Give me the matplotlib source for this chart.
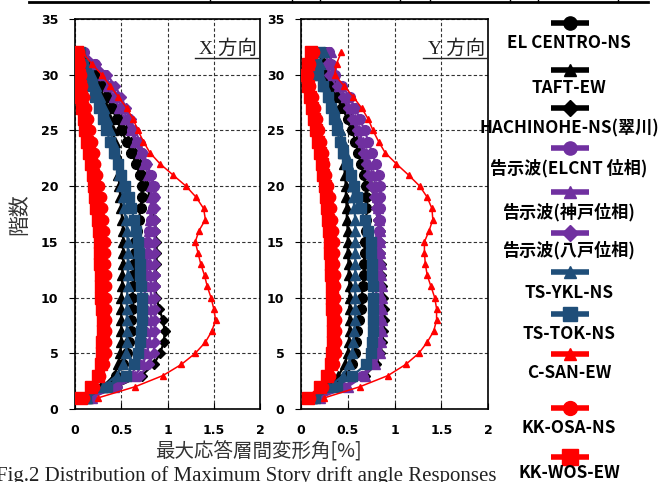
import numpy as np
import matplotlib
matplotlib.use('Agg')
import matplotlib.pyplot as plt

# stories
story = np.arange(1, 33)

labels = ['EL CENTRO-NS', 'TAFT-EW', 'HACHINOHE-NS(翠川)', '告示波(ELCNT 位相)',
          '告示波(神戸位相)', '告示波(八戸位相)', 'TS-YKL-NS', 'TS-TOK-NS',
          'C-SAN-EW', 'KK-OSA-NS', 'KK-WOS-EW']

# X direction drift angle [%], story 1..32
elc_x = [0.12, 0.30, 0.44, 0.52, 0.56, 0.58, 0.60, 0.61, 0.62, 0.62, 0.63, 0.63, 0.64, 0.65, 0.65, 0.67,
         0.69, 0.71, 0.72, 0.72, 0.70, 0.66, 0.61, 0.56, 0.50, 0.45, 0.40, 0.35, 0.29, 0.22, 0.14, 0.06]
taft_x = [0.14, 0.30, 0.42, 0.47, 0.49, 0.50, 0.50, 0.50, 0.50, 0.50, 0.51, 0.51, 0.52, 0.52, 0.52, 0.52,
          0.51, 0.50, 0.49, 0.48, 0.47, 0.46, 0.44, 0.43, 0.41, 0.38, 0.35, 0.31, 0.26, 0.20, 0.13, 0.06]
hachi_x = [0.15, 0.45, 0.72, 0.85, 0.92, 0.96, 0.97, 0.95, 0.91, 0.88, 0.87, 0.87, 0.88, 0.88, 0.88, 0.87,
           0.86, 0.84, 0.81, 0.78, 0.74, 0.70, 0.65, 0.60, 0.55, 0.50, 0.44, 0.38, 0.32, 0.25, 0.16, 0.07]
elcnt_x = [0.15, 0.40, 0.60, 0.68, 0.72, 0.74, 0.75, 0.75, 0.75, 0.75, 0.76, 0.77, 0.77, 0.78, 0.78, 0.80,
           0.82, 0.84, 0.85, 0.85, 0.82, 0.77, 0.72, 0.67, 0.62, 0.57, 0.51, 0.45, 0.39, 0.32, 0.22, 0.10]
kobe_x = [0.18, 0.42, 0.65, 0.73, 0.78, 0.80, 0.82, 0.82, 0.82, 0.82, 0.82, 0.81, 0.81, 0.80, 0.80, 0.80,
          0.81, 0.82, 0.82, 0.82, 0.79, 0.75, 0.70, 0.65, 0.60, 0.54, 0.48, 0.42, 0.36, 0.30, 0.20, 0.08]
hph_x = [0.18, 0.45, 0.70, 0.80, 0.85, 0.86, 0.86, 0.86, 0.86, 0.86, 0.86, 0.86, 0.86, 0.86, 0.86, 0.86,
         0.86, 0.86, 0.86, 0.85, 0.82, 0.78, 0.74, 0.70, 0.65, 0.60, 0.55, 0.50, 0.43, 0.35, 0.23, 0.10]
ykl_x = [0.13, 0.30, 0.45, 0.52, 0.55, 0.56, 0.56, 0.56, 0.56, 0.56, 0.57, 0.57, 0.57, 0.57, 0.57, 0.56,
         0.55, 0.53, 0.52, 0.50, 0.48, 0.46, 0.43, 0.41, 0.38, 0.35, 0.31, 0.27, 0.23, 0.18, 0.12, 0.06]
tok_x = [0.12, 0.35, 0.55, 0.64, 0.68, 0.70, 0.71, 0.72, 0.72, 0.72, 0.71, 0.70, 0.70, 0.69, 0.68, 0.66,
         0.64, 0.61, 0.58, 0.54, 0.50, 0.46, 0.42, 0.38, 0.34, 0.30, 0.26, 0.22, 0.18, 0.14, 0.09, 0.05]
csan_x = [0.25, 0.65, 0.95, 1.15, 1.30, 1.41, 1.48, 1.52, 1.50, 1.47, 1.43, 1.40, 1.36, 1.33, 1.30, 1.34,
          1.41, 1.39, 1.31, 1.20, 1.06, 0.92, 0.81, 0.74, 0.68, 0.63, 0.56, 0.47, 0.38, 0.29, 0.18, 0.08]
osa_x = [0.10, 0.20, 0.27, 0.31, 0.33, 0.34, 0.34, 0.34, 0.34, 0.33, 0.33, 0.33, 0.32, 0.32, 0.32, 0.31,
         0.30, 0.29, 0.28, 0.26, 0.24, 0.22, 0.20, 0.18, 0.16, 0.14, 0.12, 0.10, 0.08, 0.06, 0.05, 0.04]
wos_x = [0.07, 0.17, 0.25, 0.28, 0.29, 0.29, 0.30, 0.30, 0.29, 0.28, 0.28, 0.28, 0.27, 0.27, 0.27, 0.26,
         0.25, 0.23, 0.22, 0.20, 0.19, 0.17, 0.15, 0.13, 0.11, 0.10, 0.08, 0.07, 0.05, 0.04, 0.03, 0.02]

# Y direction
elc_y = [0.15, 0.35, 0.48, 0.55, 0.58, 0.59, 0.60, 0.62, 0.64, 0.65, 0.66, 0.67, 0.67, 0.68, 0.68, 0.69,
         0.70, 0.70, 0.70, 0.69, 0.67, 0.64, 0.61, 0.58, 0.55, 0.50, 0.44, 0.38, 0.32, 0.27, 0.25, 0.25]
taft_y = [0.12, 0.28, 0.40, 0.47, 0.50, 0.51, 0.52, 0.52, 0.52, 0.52, 0.52, 0.51, 0.51, 0.50, 0.50, 0.50,
          0.49, 0.49, 0.48, 0.48, 0.47, 0.46, 0.45, 0.44, 0.42, 0.39, 0.36, 0.32, 0.28, 0.25, 0.22, 0.20]
hachi_y = [0.18, 0.45, 0.68, 0.80, 0.85, 0.87, 0.88, 0.89, 0.89, 0.88, 0.87, 0.86, 0.86, 0.85, 0.85, 0.84,
           0.82, 0.80, 0.78, 0.75, 0.72, 0.69, 0.65, 0.62, 0.58, 0.53, 0.48, 0.42, 0.36, 0.30, 0.28, 0.28]
elcnt_y = [0.20, 0.45, 0.65, 0.75, 0.80, 0.80, 0.80, 0.80, 0.80, 0.80, 0.81, 0.81, 0.82, 0.82, 0.82, 0.83,
           0.84, 0.85, 0.85, 0.85, 0.83, 0.80, 0.76, 0.72, 0.68, 0.63, 0.58, 0.52, 0.44, 0.36, 0.32, 0.30]
kobe_y = [0.20, 0.50, 0.68, 0.79, 0.85, 0.86, 0.87, 0.87, 0.87, 0.87, 0.87, 0.86, 0.86, 0.85, 0.85, 0.84,
          0.83, 0.82, 0.81, 0.80, 0.77, 0.73, 0.69, 0.66, 0.62, 0.58, 0.53, 0.48, 0.41, 0.34, 0.32, 0.32]
hph_y = [0.18, 0.45, 0.66, 0.77, 0.83, 0.84, 0.85, 0.85, 0.85, 0.85, 0.85, 0.85, 0.85, 0.85, 0.85, 0.84,
         0.82, 0.80, 0.78, 0.75, 0.72, 0.69, 0.66, 0.63, 0.60, 0.55, 0.50, 0.45, 0.38, 0.30, 0.28, 0.28]
ykl_y = [0.12, 0.30, 0.45, 0.51, 0.55, 0.56, 0.57, 0.58, 0.58, 0.58, 0.58, 0.58, 0.58, 0.58, 0.58, 0.58,
         0.58, 0.57, 0.56, 0.55, 0.53, 0.50, 0.47, 0.45, 0.42, 0.39, 0.35, 0.30, 0.26, 0.20, 0.20, 0.25]
tok_y = [0.15, 0.38, 0.55, 0.70, 0.75, 0.76, 0.77, 0.77, 0.77, 0.77, 0.77, 0.76, 0.76, 0.75, 0.75, 0.72,
         0.68, 0.64, 0.60, 0.57, 0.53, 0.49, 0.45, 0.42, 0.38, 0.35, 0.32, 0.29, 0.24, 0.18, 0.15, 0.20]
csan_y = [0.25, 0.63, 0.93, 1.12, 1.26, 1.35, 1.42, 1.45, 1.45, 1.43, 1.39, 1.35, 1.33, 1.32, 1.32, 1.37,
          1.41, 1.40, 1.35, 1.27, 1.15, 1.02, 0.90, 0.83, 0.77, 0.72, 0.65, 0.56, 0.46, 0.36, 0.38, 0.43]
osa_y = [0.10, 0.23, 0.31, 0.35, 0.37, 0.37, 0.37, 0.37, 0.37, 0.36, 0.36, 0.36, 0.35, 0.35, 0.35, 0.34,
         0.33, 0.32, 0.31, 0.29, 0.27, 0.25, 0.23, 0.21, 0.19, 0.17, 0.15, 0.13, 0.10, 0.08, 0.10, 0.14]
wos_y = [0.07, 0.20, 0.28, 0.32, 0.33, 0.34, 0.34, 0.34, 0.33, 0.33, 0.33, 0.32, 0.32, 0.31, 0.31, 0.30,
         0.29, 0.28, 0.27, 0.26, 0.24, 0.22, 0.20, 0.18, 0.16, 0.14, 0.12, 0.10, 0.08, 0.05, 0.07, 0.11]

data_x = [elc_x, taft_x, hachi_x, elcnt_x, kobe_x, hph_x, ykl_x, tok_x, csan_x, osa_x, wos_x]
data_y = [elc_y, taft_y, hachi_y, elcnt_y, kobe_y, hph_y, ykl_y, tok_y, csan_y, osa_y, wos_y]

BLK, PUR, BLU, RED = 'black', '#7030A0', '#1F4E79', '#FF0000'
colors = [BLK, BLK, BLK, PUR, PUR, PUR, BLU, BLU, RED, RED, RED]
markers = ['o', '^', 'D', 'o', '^', 'D', '^', 's', '^', 'o', 's']
msizes = [7, 6.5, 5.5, 7, 6.5, 5.5, 6.5, 7.5, 5, 7.5, 8]
lws = [1.6, 1.6, 1.6, 1.6, 1.6, 1.6, 1.6, 1.6, 1.1, 1.6, 1.6]
leg_ms = [9.5, 9, 8, 9.5, 9, 8, 9, 10, 9, 10, 11]

plt.rcParams['font.family'] = ['Noto Sans CJK JP', 'DejaVu Sans']

fig = plt.figure(figsize=(6.61, 4.82), dpi=100)
ax1 = fig.add_axes([75/661, 1-409/482, 185/661, 390/482])
ax2 = fig.add_axes([301/661, 1-409/482, 187/661, 390/482])

for ax, dat, ttl in [(ax1, data_x, 'X 方向'), (ax2, data_y, 'Y 方向')]:
    for i in range(len(dat)):
        ax.plot(dat[i], story, color=colors[i], marker=markers[i], ms=msizes[i],
                lw=lws[i], mec=colors[i], zorder=3)
    ax.set_xlim(0, 2)
    ax.set_ylim(0, 35)
    ax.set_xticks([0, 0.5, 1, 1.5, 2])
    ax.set_xticklabels(['0', '0.5', '1', '1.5', '2'])
    ax.set_yticks(range(0, 36, 5))
    ax.grid(True, color='#333333', linestyle=(0, (3, 2)), linewidth=0.8)
    ax.tick_params(axis='x', direction='in', length=4, pad=11)
    ax.tick_params(axis='y', direction='out', length=4, pad=8)
    for lab in ax.get_xticklabels() + ax.get_yticklabels():
        lab.set_fontfamily('DejaVu Sans')
        lab.set_fontweight('bold')
        lab.set_fontsize(9)
    for s in ax.spines.values():
        s.set_linewidth(1.2)
    ax.text(0.985, 0.925, ttl, transform=ax.transAxes, ha='right', va='center',
            fontsize=14, family=['Liberation Serif', 'Noto Sans CJK JP'], color='#222222')
    ax.plot([0.65, 0.99], [0.9, 0.9], transform=ax.transAxes, color='#222222',
            lw=1, clip_on=False)

ax1.set_ylabel('階数', fontsize=15, color='#333333', labelpad=8)
fig.text(258/661, 1-452/482, '最大応答層間変形角[%]', ha='center', va='center',
         fontsize=14, color='#333333')
fig.text(-0.006, 1-476/482, 'Fig.2 Distribution of Maximum Story drift angle Responses',
         ha='left', va='center', fontsize=15, family='Liberation Serif', color='#222222')

# legend drawn in pixel space on the right
lax = fig.add_axes([0, 0, 1, 1], zorder=5)
lax.set_xlim(0, 661)
lax.set_ylim(482, 0)
lax.axis('off')
mark_y = [23, 70, 108, 148, 192, 233, 272, 314, 354, 408, 457]
text_y = [43, 88, 128, 168, 212, 250, 293, 334, 373, 428, 473]
for i in range(len(labels)):
    lax.plot([551, 589], [mark_y[i], mark_y[i]], color=colors[i], lw=4,
             solid_capstyle='butt')
    lax.plot([570], [mark_y[i]], color=colors[i], marker=markers[i], ms=leg_ms[i],
             mec=colors[i], ls='none')
    lax.text(569, text_y[i], labels[i], ha='center', va='center', fontsize=12.3,
             fontweight='bold', color='black')

# cropped table border at the top
lax.plot([29, 648], [2, 2], color='black', lw=2)
for xx in [210, 292, 320, 400, 430, 510, 538, 618]:
    lax.plot([xx, xx], [0, 2], color='black', lw=1)

fig.savefig('out.png', dpi=100)
